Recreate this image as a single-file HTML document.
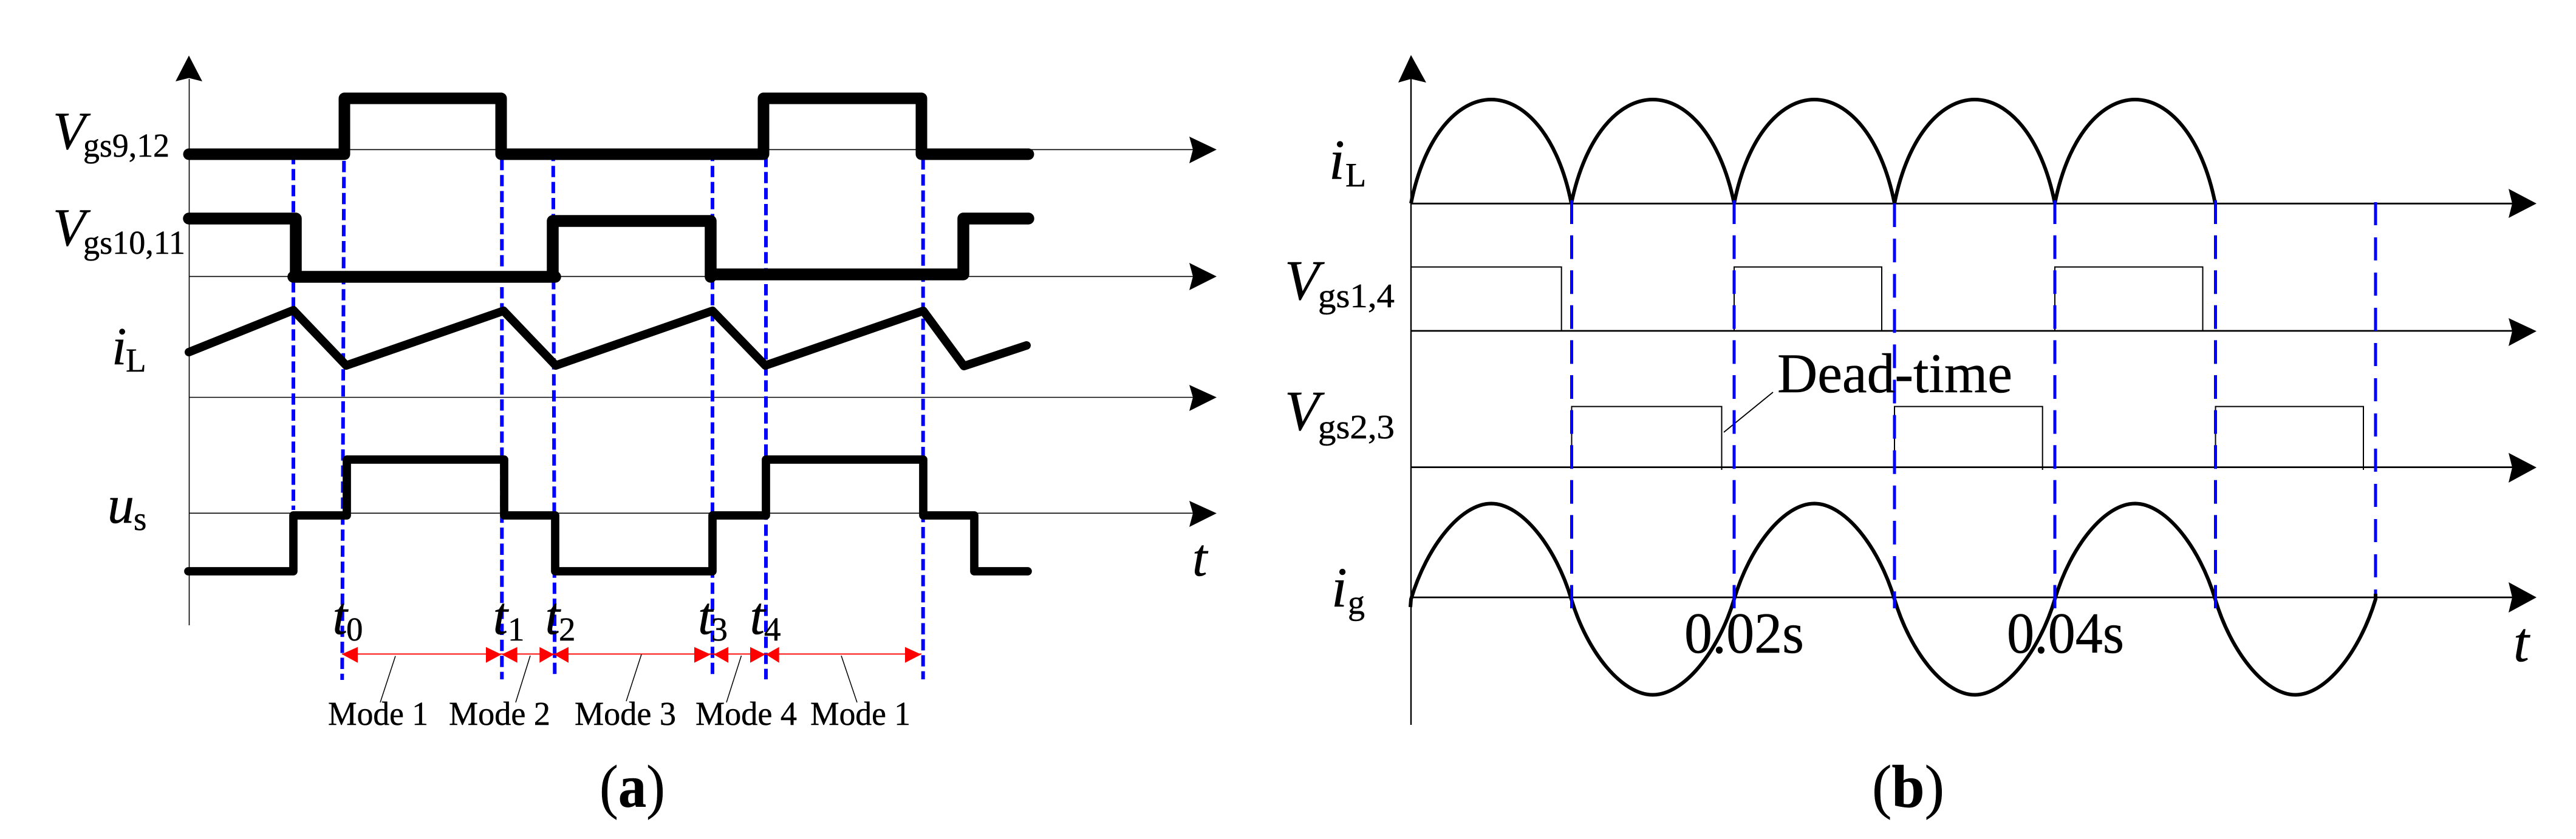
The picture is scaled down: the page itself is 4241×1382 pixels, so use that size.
<!DOCTYPE html>
<html><head><meta charset="utf-8"><title>Waveforms</title>
<style>
html,body{margin:0;padding:0;background:#fff}
svg{display:block}
text{font-family:"Liberation Serif",serif;fill:#000;stroke:#000;stroke-width:.5px}
.i{font-style:italic}
.big{font-size:88px}
.sub{font-size:55px}
.bigr{font-size:93px}
.subr{font-size:56px}
</style></head><body>
<svg xmlns="http://www.w3.org/2000/svg" width="4241" height="1382" viewBox="0 0 4241 1382">
<rect width="4241" height="1382" fill="#fff"/>
<!-- LEFT PANEL -->
<g stroke="#000" stroke-width="1.6" fill="none">
<path d="M311.5 130V1030"/>
<path d="M311 246.4H1964M311 455.4H1964M311 654.5H1964M311 845.3H1964"/>
</g>
<g fill="#000">
<path d="M311 91.5L333 134L311 128.5L289 134Z"/>
<path d="M2003 246.4L1958 225L1964 246.4L1958 269Z"/>
<path d="M2003 455.4L1958 433L1964 455.4L1958 478Z"/>
<path d="M2003 654.5L1958 634L1964 654.5L1958 677Z"/>
<path d="M2003 845.5L1958 825L1964 845.5L1958 868Z"/>
</g>
<g stroke="#0000ff" stroke-width="6" fill="none" stroke-dasharray="18.6 7.8">
<path d="M483 252V840"/>
<path d="M566.3 265L563.3 1120"/>
<path d="M826.3 261.8V1119"/>
<path d="M910.7 246.8L913.3 1111.7"/>
<path d="M1173 246.8V1111.7"/>
<path d="M1261 256.8V1119"/>
<path d="M1519.7 260.8V1119"/>
</g>
<g stroke="#000" fill="none" stroke-linecap="round" stroke-linejoin="round">
<path stroke-width="19" d="M311 254H567V162H825V254H1257V162H1517V254H1693"/>
<path stroke-width="19.5" d="M311 360H487V456M483 456H914M910 456V364H1170V456M1170 452H1586V360H1693"/>
<path stroke-width="14" d="M311 580L483 511L570 602L829 512L915 602L1173 512L1260 602L1520 512L1587 603L1690 569"/>
<path stroke-width="13.7" d="M310 941H483V849H571V757H830V849H914V941H1173V849H1261V757H1520V849H1604V941H1692"/>
</g>
<!-- red dimension arrows -->
<path d="M563 1077.3H1517" stroke="#ff0000" stroke-width="1.8" fill="none"/>
<g fill="#ff0000">
<path d="M562.7 1077.5L589 1065.7V1091.7Z"/>
<path d="M825.5 1078L800 1065.7V1091.7Z"/>
<path d="M826 1078L851.7 1065.7V1091.7Z"/>
<path d="M912 1078L888.3 1065.7V1091.7Z"/>
<path d="M912 1078L936 1065.7V1091.7Z"/>
<path d="M1170 1078L1143 1065.7V1091.7Z"/>
<path d="M1175 1078L1199 1065.7V1091.7Z"/>
<path d="M1260 1078L1235 1065.7V1091.7Z"/>
<path d="M1261 1078L1282.7 1065.7V1091.7Z"/>
<path d="M1516.7 1078L1490 1065.7V1091.7Z"/>
</g>
<g stroke="#000" stroke-width="1.5" fill="none">
<path d="M651 1080.6L626 1157"/>
<path d="M873 1080L849 1157"/>
<path d="M1056 1078L1031 1155"/>
<path d="M1220.5 1080L1196 1157"/>
<path d="M1385 1080L1411 1157"/>
</g>
<!-- left labels -->
<text class="i big" x="87" y="245">V</text><text class="sub" x="137" y="258" textLength="142" lengthAdjust="spacingAndGlyphs">gs9,12</text>
<text class="i big" x="87" y="404">V</text><text class="sub" x="137" y="418" textLength="168" lengthAdjust="spacingAndGlyphs">gs10,11</text>
<text class="i big" x="184" y="600">i</text><text class="sub" x="207" y="612">L</text>
<text class="i big" x="177" y="861">u</text><text class="sub" x="220" y="873">s</text>
<text class="i big" x="547.5" y="1044">t</text><text class="sub" x="570" y="1055">0</text>
<text class="i big" x="811.6" y="1044">t</text><text class="sub" x="836" y="1055">1</text>
<text class="i big" x="897.5" y="1044">t</text><text class="sub" x="920" y="1055">2</text>
<text class="i big" x="1149" y="1044">t</text><text class="sub" x="1170.5" y="1055">3</text>
<text class="i big" x="1234.5" y="1044">t</text><text class="sub" x="1258" y="1055">4</text>
<text class="sub" x="540" y="1194" textLength="165" lengthAdjust="spacingAndGlyphs">Mode 1</text>
<text class="sub" x="739" y="1194" textLength="167" lengthAdjust="spacingAndGlyphs">Mode 2</text>
<text class="sub" x="946" y="1194" textLength="167" lengthAdjust="spacingAndGlyphs">Mode 3</text>
<text class="sub" x="1145" y="1194" textLength="167" lengthAdjust="spacingAndGlyphs">Mode 4</text>
<text class="sub" x="1334" y="1194" textLength="165" lengthAdjust="spacingAndGlyphs">Mode 1</text>
<text class="i big" x="1963" y="948">t</text>
<text x="987" y="1329" font-size="100" textLength="108" lengthAdjust="spacingAndGlyphs">(<tspan font-weight="bold">a</tspan>)</text>

<!-- RIGHT PANEL -->
<g stroke="#000" fill="none">
<path stroke-width="2.4" d="M2323 130V1194"/>
<path stroke-width="2.8" d="M2323 335.3H4136M2323 545H4136M2323 769.6H4136M2323 984H4136"/>
<path stroke-width="2" d="M2323 439.7H2570.7V545M2855 545V439.7H3098V545M3383 545V439.7H3626.5V545"/>
<path stroke-width="2" d="M2587.5 769V669.6H2834.5V774M3119 769V669.6H3362.7V774M3647.5 769V669.6H3891V774"/>
<path stroke-width="1.8" d="M2919 646L2838 712"/>
</g>
<g fill="#000">
<path d="M2323 90.6L2348 136L2323 130L2302 136Z"/>
<path d="M4176 335.3L4130 311L4136 335.3L4130 359Z"/>
<path d="M4176 545.5L4130 524L4136 545.5L4130 570Z"/>
<path d="M4176 770L4130 746L4136 770L4130 795Z"/>
<path d="M4176 984L4130 959L4136 984L4130 1009Z"/>
</g>
<g stroke="#000" stroke-width="6" fill="none">
<path d="M2323 335c22,-111 77,-171 132,-171c55,0 110,60 132,171"/>
<path d="M2587 335c23,-111 78,-171 134,-171c56,0 111,60 134,171"/>
<path d="M2855 335c22,-111 77,-171 132,-171c55,0 110,60 132,171"/>
<path d="M3119 335c22,-111 77,-171 132,-171c55,0 110,60 132,171"/>
<path d="M3383 335c22,-111 77,-171 132,-171c55,0 110,60 132,171"/>
<path d="M2322 1000L2323 987c26,-87 82,-157.5 132,-157.5c50,0 106,70.5 132,157.5"/>
<path d="M2587 987c26,87 83,157.5 134,157.5c51,0 108,-70.5 134,-157.5"/>
<path d="M2855 987c26,-87 82,-157.5 132,-157.5c50,0 106,70.5 132,157.5"/>
<path d="M3119 987c26,87 82,157.5 132,157.5c50,0 106,-70.5 132,-157.5"/>
<path d="M3383 987c26,-87 82,-157.5 132,-157.5c50,0 106,70.5 132,157.5"/>
<path d="M3647 987c26,87 82,157.5 132,157.5c50,0 106,-70.5 132,-157.5L3911 978"/>
</g>
<g stroke="#0000ff" stroke-width="5" fill="none">
<path stroke-dasharray="39 18.6" d="M2587.5 330V1002"/>
<path stroke-dasharray="39 18.6" d="M2855 330V1002"/>
<path stroke-dasharray="39 19.1" d="M3119 335V1002"/>
<path stroke-dasharray="39 18.6" d="M3383 330V1002"/>
<path stroke-dasharray="39 18.6" d="M3647.5 330V1002"/>
<path stroke-dasharray="38 20" d="M3911 333V978"/>
</g>
<!-- right labels -->
<text class="i bigr" x="2188" y="294.6">i</text><text class="subr" x="2215" y="307">L</text>
<text class="i bigr" x="2115" y="493">V</text><text class="subr" x="2170" y="506" textLength="126" lengthAdjust="spacingAndGlyphs">gs1,4</text>
<text class="i bigr" x="2115" y="708">V</text><text class="subr" x="2170" y="722" textLength="126" lengthAdjust="spacingAndGlyphs">gs2,3</text>
<text class="i bigr" x="2192" y="999">i</text><text class="subr" x="2219" y="1011">g</text>
<text x="2926" y="646" font-size="92" textLength="387" lengthAdjust="spacingAndGlyphs">Dead-time</text>
<text x="2773" y="1075" font-size="95" textLength="197" lengthAdjust="spacingAndGlyphs">0.02s</text>
<text x="3304" y="1075" font-size="95" textLength="193" lengthAdjust="spacingAndGlyphs">0.04s</text>
<text class="i bigr" x="4138" y="1089">t</text>
<text x="3082" y="1329" font-size="100" textLength="119" lengthAdjust="spacingAndGlyphs">(<tspan font-weight="bold">b</tspan>)</text>
</svg>
</body></html>
